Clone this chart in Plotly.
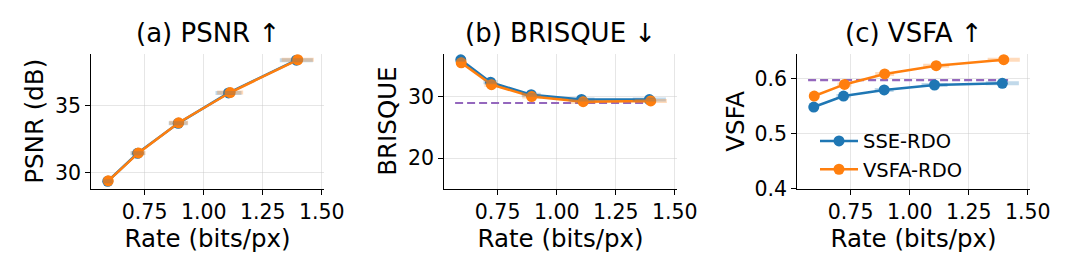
import plotly.graph_objects as go

# ---------------- data ----------------
rate_sse = [0.594, 0.720, 0.892, 1.105, 1.392]
rate_vsfa = [0.596, 0.724, 0.894, 1.112, 1.398]
rate_err_sse = [0.02, 0.03, 0.04, 0.055, 0.07]
rate_err_vsfa = [0.02, 0.03, 0.04, 0.055, 0.068]

psnr_sse = [29.34, 31.43, 33.67, 35.94, 38.39]
psnr_vsfa = [29.37, 31.46, 33.71, 35.97, 38.42]

brisque_sse = [36.05, 32.39, 30.36, 29.58, 29.55]
brisque_vsfa = [35.58, 32.00, 30.05, 29.22, 29.33]
brisque_ref = 29.0

vsfa_sse = [0.548, 0.568, 0.579, 0.588, 0.591]
vsfa_vsfa = [0.568, 0.589, 0.608, 0.623, 0.634]
vsfa_ref = 0.597

ref_span = [0.57, 1.42]

series_names = ["SSE-RDO", "VSFA-RDO"]
titles = ["(a) PSNR ↑", "(b) BRISQUE ↓", "(c) VSFA ↑"]
ylabels = ["PSNR (dB)", "BRISQUE", "VSFA"]
xlabel = "Rate (bits/px)"
xticks = [0.75, 1.00, 1.25, 1.50]
yticks = [[30, 35], [20, 30], [0.4, 0.5, 0.6]]
yranges = [[28.79, 38.86], [15.0, 37.03], [0.4, 0.6445]]
xrange_ = [0.5245, 1.508]

BLUE = "#1f77b4"
ORANGE = "#ff7f0e"
PURPLE = "#9467bd"
FONT = "DejaVu Sans"
TICK_SIZE = 20.5
LABEL_SIZE = 24.5
TITLE_SIZE = 26
LEGEND_SIZE = 19.5

panels = [
    (psnr_sse, psnr_vsfa, None),
    (brisque_sse, brisque_vsfa, brisque_ref),
    (vsfa_sse, vsfa_vsfa, vsfa_ref),
]

xdomains = [[85 / 1080, 322 / 1080], [445 / 1080, 682 / 1080], [805 / 1080, 1042 / 1080]]
ydomain = [1 - 189 / 270, 1 - 48 / 270]
ylabel_x = [27 / 1080, 387 / 1080, 742 / 1080]

fig = go.Figure()

for i, (ys, yv, ref) in enumerate(panels):
    xa = "x" if i == 0 else f"x{i+1}"
    ya = "y" if i == 0 else f"y{i+1}"
    show = i == 2
    if ref is not None:
        fig.add_trace(go.Scatter(
            x=ref_span, y=[ref, ref], mode="lines", xaxis=xa, yaxis=ya,
            line=dict(color=PURPLE, width=2.2, dash="8px,4px"), showlegend=False,
            hoverinfo="skip"))
    fig.add_trace(go.Scatter(
        x=rate_sse, y=ys, mode="lines+markers", name=series_names[0], xaxis=xa, yaxis=ya,
        line=dict(color=BLUE, width=2.5), marker=dict(size=11, color=BLUE),
        showlegend=show, legendrank=1))
    fig.add_trace(go.Scatter(
        x=rate_vsfa, y=yv, mode="lines+markers", name=series_names[1], xaxis=xa, yaxis=ya,
        line=dict(color=ORANGE, width=2.5), marker=dict(size=11, color=ORANGE),
        showlegend=show, legendrank=2))
    # horizontal error bars (semi-transparent, drawn on top)
    for rx, yy, err, col in [(rate_sse, ys, rate_err_sse, "rgba(31,119,180,0.28)"),
                             (rate_vsfa, yv, rate_err_vsfa, "rgba(255,127,14,0.28)")]:
        fig.add_trace(go.Scatter(
            x=rx, y=yy, mode="markers", xaxis=xa, yaxis=ya,
            marker=dict(size=1, opacity=0),
            error_x=dict(type="data", array=err, visible=True, color=col,
                         thickness=4, width=0),
            showlegend=False, hoverinfo="skip"))

axis_common = dict(
    showline=True, linecolor="black", linewidth=1.2, mirror=False,
    ticks="outside", ticklen=5, tickwidth=1.2, tickcolor="black",
    showgrid=True, gridcolor="rgba(200,200,200,0.45)", gridwidth=1,
    zeroline=False, tickfont=dict(family=FONT, size=TICK_SIZE, color="black"),
)

layout = dict(
    width=1080, height=270,
    margin=dict(l=0, r=0, t=0, b=0),
    paper_bgcolor="white", plot_bgcolor="white",
    font=dict(family=FONT, color="black"),
    legend=dict(x=823 / 1080, y=1 - 119 / 270, xanchor="left", yanchor="top",
                bgcolor="rgba(0,0,0,0)", font=dict(family=FONT, size=LEGEND_SIZE),
                itemwidth=38, tracegroupgap=0),
    annotations=[],
)

for i in range(3):
    xk = "xaxis" if i == 0 else f"xaxis{i+1}"
    yk = "yaxis" if i == 0 else f"yaxis{i+1}"
    ya = "y" if i == 0 else f"y{i+1}"
    xa = "x" if i == 0 else f"x{i+1}"
    layout[xk] = dict(
        axis_common, domain=xdomains[i], anchor=ya, range=xrange_,
        tickvals=xticks, tickformat=".2f",
        title=dict(text=xlabel, font=dict(family=FONT, size=LABEL_SIZE), standoff=0),
    )
    layout[yk] = dict(
        axis_common, domain=ydomain, anchor=xa, range=yranges[i],
        tickvals=yticks[i], tickformat=(".1f" if i == 2 else "d"),
    )
    layout["annotations"].append(dict(
        text=titles[i], xref="paper", yref="paper",
        x=(xdomains[i][0] + xdomains[i][1]) / 2, y=1 - 26 / 270,
        xanchor="center", yanchor="middle", showarrow=False,
        font=dict(family=FONT, size=TITLE_SIZE, color="black")))
    layout["annotations"].append(dict(
        text=ylabels[i], xref="paper", yref="paper",
        x=ylabel_x[i], y=(ydomain[0] + ydomain[1]) / 2, textangle=-90,
        xanchor="center", yanchor="middle", showarrow=False,
        font=dict(family=FONT, size=LABEL_SIZE, color="black")))

fig.update_layout(**layout)
fig.write_html("out.html")
